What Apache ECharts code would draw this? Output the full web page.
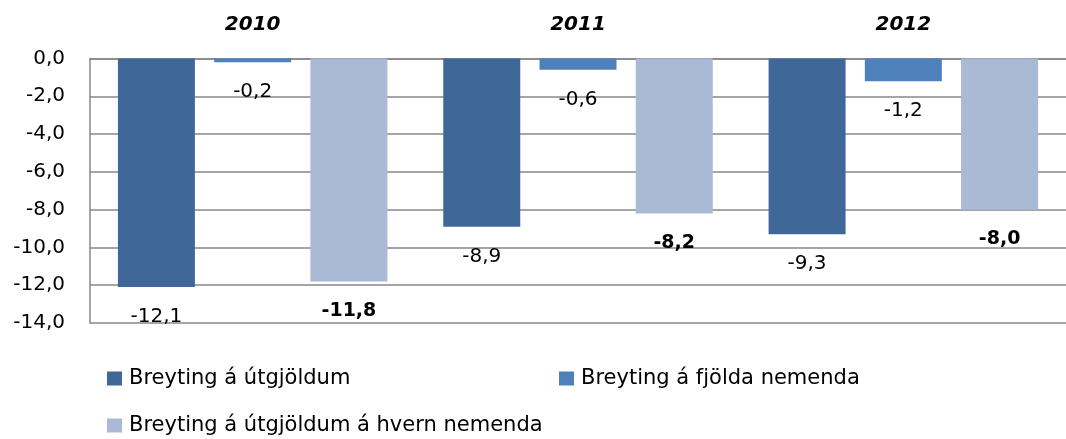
<!DOCTYPE html>
<html>
<head>
    <meta charset="utf-8" />
    <title>Breyting</title>
    <script src="https://cdn.jsdelivr.net/npm/echarts@6/dist/echarts.min.js"></script>
    <style>
        html, body { margin: 0; padding: 0; background: #fff; }
        #div_echart { width: 1066px; height: 439px; }
    </style>
</head>
<body>
    <div id="div_echart"></div>
    <script>
        var years = ['2010', '2011', '2012'];
        var seriesNames = ['Breyting á útgjöldum', 'Breyting á fjölda nemenda', 'Breyting á útgjöldum á hvern nemenda'];
        var utgjold = [-12.1, -8.9, -9.3];
        var fjoldi = [-0.2, -0.6, -1.2];
        var hvernNemanda = [-11.8, -8.2, -8.0];
        var colors = ['#3f6899', '#4e80bc', '#a9b9d6'];

        var FONT = 'DejaVu Sans';

        function fmt(v) {
            return v.toFixed(1).replace('.', ',');
        }

        function barLabel(bold) {
            return {
                show: true,
                position: 'bottom',
                distance: 20,
                fontFamily: FONT,
                fontSize: bold ? 19 : 20,
                fontWeight: bold ? 'bold' : 'normal',
                color: '#000',
                formatter: function (p) { return fmt(p.value); }
            };
        }

        var mychart = echarts.init(document.getElementById('div_echart'));
        var legendBase = {
            orient: 'horizontal',
            padding: 0,
            itemWidth: 15,
            itemHeight: 14,
            icon: 'rect',
            itemGap: 5,
            textStyle: { fontFamily: FONT, fontSize: 21, color: '#000', padding: [0, 0, 0, 2] }
        };
        var option = {
            animation: false,
            color: colors,
            grid: { left: 90, top: 58.5, width: 987, height: 264.5 },
            legend: [
                Object.assign({ data: [seriesNames[0]], left: 107, top: 368 }, legendBase),
                Object.assign({ data: [seriesNames[1]], left: 559, top: 368 }, legendBase),
                Object.assign({ data: [seriesNames[2]], left: 107, top: 415 }, legendBase)
            ],
            xAxis: {
                type: 'category',
                position: 'top',
                data: years,
                axisTick: { show: false },
                axisLine: { show: true, lineStyle: { color: '#878787', width: 1.5 } },
                axisLabel: {
                    margin: 24,
                    fontFamily: FONT,
                    fontSize: 20,
                    fontWeight: 'bold',
                    fontStyle: 'italic',
                    color: '#000'
                }
            },
            yAxis: {
                type: 'value',
                min: -14,
                max: 0,
                interval: 2,
                axisLine: { show: true, lineStyle: { color: '#878787', width: 1.5 } },
                axisTick: { show: false },
                splitLine: { show: true, lineStyle: { color: '#878787', width: 1.5 } },
                axisLabel: {
                    margin: 25,
                    fontFamily: FONT,
                    fontSize: 20,
                    color: '#000',
                    formatter: function (v) { return fmt(v); }
                }
            },
            series: [
                {
                    name: seriesNames[0],
                    type: 'bar',
                    barWidth: 77,
                    barGap: '25%',
                    data: utgjold,
                    label: barLabel(false)
                },
                {
                    name: seriesNames[1],
                    type: 'bar',
                    barWidth: 77,
                    barGap: '25%',
                    data: fjoldi,
                    label: barLabel(false)
                },
                {
                    name: seriesNames[2],
                    type: 'bar',
                    barWidth: 77,
                    barGap: '25%',
                    data: hvernNemanda,
                    label: barLabel(true)
                }
            ]
        };
        mychart.setOption(option, true);
    </script>
</body>
</html>
